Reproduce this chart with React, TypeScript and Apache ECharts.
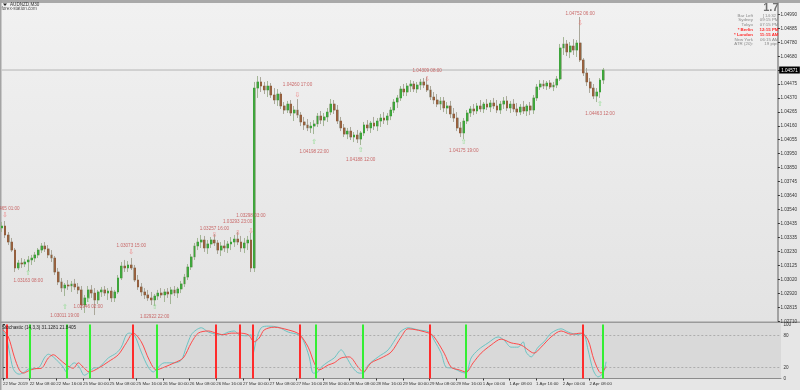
import React, { useEffect, useRef } from 'react';
import * as echarts from 'echarts';

// ---------- DATA ----------
const DAYS = ['22 Mar', '25 Mar', '26 Mar', '27 Mar', '28 Mar', '29 Mar', '1 Apr', '2 Apr'];
const FIRST_LABEL = '22 Mar 2019';
const BAR_COUNT = 182;
const SLOT_COUNT = 234;

const OPEN = [1.03407,1.03421,1.03355,1.03303,1.03244,1.03112,1.03149,1.03141,1.03156,1.03171,1.03185,1.03208,1.03244,1.03274,1.03252,1.03208,1.03185,1.03082,1.03009,1.02964,1.02986,1.02979,1.02994,1.02972,1.02950,1.02839,1.02891,1.02950,1.02927,1.02876,1.02935,1.02950,1.02927,1.02942,1.02891,1.02935,1.03038,1.03126,1.03112,1.03134,1.03112,1.03023,1.02972,1.02935,1.02913,1.02891,1.02876,1.02905,1.02927,1.02913,1.02935,1.02920,1.02950,1.02927,1.02957,1.02994,1.03045,1.03119,1.03193,1.03274,1.03303,1.03318,1.03259,1.03289,1.03318,1.03296,1.03244,1.03274,1.03259,1.03289,1.03303,1.03325,1.03303,1.03259,1.03296,1.03318,1.03112,1.04438,1.04483,1.04453,1.04424,1.04453,1.04387,1.04350,1.04394,1.04306,1.04276,1.04320,1.04254,1.04276,1.04239,1.04188,1.04166,1.04144,1.04158,1.04173,1.04232,1.04202,1.04225,1.04261,1.04320,1.04276,1.04195,1.04144,1.04099,1.04121,1.04077,1.04092,1.04062,1.04107,1.04166,1.04144,1.04180,1.04158,1.04195,1.04217,1.04202,1.04232,1.04276,1.04335,1.04365,1.04431,1.04409,1.04453,1.04468,1.04431,1.04460,1.04483,1.04460,1.04424,1.04372,1.04350,1.04320,1.04343,1.04291,1.04306,1.04247,1.04217,1.04144,1.04107,1.04195,1.04254,1.04284,1.04269,1.04306,1.04284,1.04320,1.04298,1.04328,1.04306,1.04276,1.04320,1.04343,1.04291,1.04320,1.04284,1.04261,1.04298,1.04269,1.04306,1.04276,1.04365,1.04446,1.04468,1.04453,1.04475,1.04446,1.04460,1.04505,1.04733,1.04763,1.04704,1.04748,1.04718,1.04770,1.04645,1.04549,1.04483,1.04438,1.04379,1.04409,1.04497];
const CLOSE = [1.03421,1.03355,1.03303,1.03244,1.03112,1.03149,1.03141,1.03156,1.03171,1.03185,1.03208,1.03244,1.03274,1.03252,1.03208,1.03185,1.03082,1.03009,1.02964,1.02986,1.02979,1.02994,1.02972,1.02950,1.02839,1.02891,1.02950,1.02927,1.02876,1.02935,1.02950,1.02927,1.02942,1.02891,1.02935,1.03038,1.03126,1.03112,1.03134,1.03112,1.03023,1.02972,1.02935,1.02913,1.02891,1.02876,1.02905,1.02927,1.02913,1.02935,1.02920,1.02950,1.02927,1.02957,1.02994,1.03045,1.03119,1.03193,1.03274,1.03303,1.03318,1.03259,1.03289,1.03318,1.03296,1.03244,1.03274,1.03259,1.03289,1.03303,1.03325,1.03303,1.03259,1.03296,1.03318,1.03112,1.04438,1.04483,1.04453,1.04424,1.04453,1.04387,1.04350,1.04394,1.04306,1.04276,1.04320,1.04254,1.04276,1.04239,1.04188,1.04166,1.04144,1.04158,1.04173,1.04232,1.04202,1.04225,1.04261,1.04320,1.04276,1.04195,1.04144,1.04099,1.04121,1.04077,1.04092,1.04062,1.04107,1.04166,1.04144,1.04180,1.04158,1.04195,1.04217,1.04202,1.04232,1.04276,1.04335,1.04365,1.04431,1.04409,1.04453,1.04468,1.04431,1.04460,1.04483,1.04460,1.04424,1.04372,1.04350,1.04320,1.04343,1.04291,1.04306,1.04247,1.04217,1.04144,1.04107,1.04195,1.04254,1.04284,1.04269,1.04306,1.04284,1.04320,1.04298,1.04328,1.04306,1.04276,1.04320,1.04343,1.04291,1.04320,1.04284,1.04261,1.04298,1.04269,1.04306,1.04276,1.04365,1.04446,1.04468,1.04453,1.04475,1.04446,1.04460,1.04505,1.04733,1.04763,1.04704,1.04748,1.04718,1.04770,1.04645,1.04549,1.04483,1.04438,1.04379,1.04409,1.04497,1.04571];
const HIGH = [1.03451,1.03458,1.03377,1.03333,1.03259,1.03171,1.03185,1.03178,1.03200,1.03208,1.03230,1.03259,1.03296,1.03303,1.03281,1.03244,1.03200,1.03112,1.03038,1.03001,1.03023,1.03016,1.03031,1.03001,1.02979,1.02913,1.02979,1.02986,1.02964,1.02950,1.02972,1.02979,1.02964,1.02972,1.02950,1.03060,1.03156,1.03171,1.03163,1.03185,1.03134,1.03060,1.03001,1.02964,1.02950,1.02935,1.02920,1.02950,1.02964,1.02957,1.02964,1.02972,1.02979,1.02972,1.03016,1.03068,1.03141,1.03215,1.03296,1.03333,1.03355,1.03348,1.03318,1.03340,1.03362,1.03318,1.03303,1.03318,1.03311,1.03340,1.03355,1.03377,1.03348,1.03333,1.03348,1.03370,1.04483,1.04527,1.04519,1.04483,1.04490,1.04475,1.04438,1.04431,1.04409,1.04335,1.04343,1.04350,1.04306,1.04357,1.04261,1.04225,1.04210,1.04188,1.04202,1.04254,1.04269,1.04254,1.04291,1.04357,1.04350,1.04313,1.04225,1.04173,1.04144,1.04151,1.04114,1.04129,1.04121,1.04188,1.04202,1.04195,1.04225,1.04217,1.04247,1.04261,1.04254,1.04298,1.04357,1.04387,1.04453,1.04468,1.04475,1.04497,1.04490,1.04483,1.04505,1.04512,1.04519,1.04453,1.04409,1.04394,1.04372,1.04372,1.04335,1.04343,1.04291,1.04261,1.04188,1.04217,1.04276,1.04306,1.04320,1.04328,1.04350,1.04335,1.04357,1.04350,1.04365,1.04350,1.04343,1.04372,1.04379,1.04343,1.04357,1.04328,1.04320,1.04343,1.04320,1.04335,1.04387,1.04468,1.04497,1.04497,1.04490,1.04497,1.04483,1.04527,1.04763,1.04814,1.04792,1.04777,1.04799,1.04792,1.04962,1.04659,1.04586,1.04512,1.04468,1.04438,1.04512,1.04586];
const LOW = [1.03377,1.03333,1.03281,1.03230,1.03082,1.03097,1.03112,1.03119,1.03090,1.03134,1.03156,1.03185,1.03222,1.03230,1.03185,1.03156,1.03060,1.02986,1.02935,1.02905,1.02950,1.02935,1.02950,1.02920,1.02802,1.02780,1.02861,1.02891,1.02765,1.02846,1.02898,1.02905,1.02876,1.02861,1.02861,1.02920,1.03023,1.03082,1.03082,1.03097,1.03009,1.02950,1.02905,1.02883,1.02869,1.02839,1.02832,1.02876,1.02891,1.02861,1.02891,1.02846,1.02905,1.02891,1.02927,1.02972,1.03023,1.03097,1.03171,1.03244,1.03259,1.03230,1.03215,1.03259,1.03274,1.03215,1.03200,1.03230,1.03222,1.03244,1.03267,1.03281,1.03230,1.03222,1.03244,1.03082,1.03082,1.04365,1.04409,1.04394,1.04372,1.04365,1.04320,1.04306,1.04284,1.04247,1.04254,1.04232,1.04195,1.04217,1.04158,1.04129,1.04121,1.04107,1.04099,1.04151,1.04173,1.04158,1.04188,1.04239,1.04247,1.04173,1.04121,1.04077,1.04062,1.04055,1.04040,1.04033,1.04018,1.04085,1.04121,1.04107,1.04129,1.04121,1.04151,1.04173,1.04166,1.04202,1.04254,1.04291,1.04343,1.04379,1.04379,1.04409,1.04409,1.04402,1.04424,1.04438,1.04409,1.04350,1.04320,1.04298,1.04276,1.04261,1.04247,1.04217,1.04188,1.04121,1.04077,1.04062,1.04173,1.04225,1.04239,1.04247,1.04261,1.04254,1.04276,1.04261,1.04284,1.04254,1.04247,1.04284,1.04269,1.04254,1.04261,1.04232,1.04239,1.04247,1.04232,1.04239,1.04247,1.04343,1.04424,1.04431,1.04424,1.04431,1.04416,1.04438,1.04490,1.04682,1.04674,1.04659,1.04682,1.04667,1.04630,1.04527,1.04453,1.04402,1.04357,1.04335,1.04365,1.04468];

const PRICE_MIN = 1.02721;
const PRICE_MAX = 1.05065;
const PRICE_STEP = 0.001028;
const PRICE_TICK_LABELS = ['1.02710','1.02815','1.02920','1.03020','1.03125','1.03230','1.03335','1.03435','1.03540','1.03640','1.03745','1.03850','1.03950','1.04055','1.04160','1.04265','1.04370','1.04475','1.04575','1.04680','1.04780','1.04885','1.04990'];
const CURRENT_PRICE = 1.04571;

// fractal marks: [bar index, price of arrow, label, label offset (px)]
const SELL_FRACTALS: [number, number, string, number][] = [
  [1, 1.03502, '1.03465 01:00', 7],
  [39, 1.03230, '1.03073 15:00', 6],
  [64, 1.03355, '1.03257 16:00', 6],
  [71, 1.03370, '1.03293 23:00', 11],
  [75, 1.03384, '1.03298 03:00', 16],
  [89, 1.04387, '1.04260 17:00', 10],
  [128, 1.04505, '1.04309 08:00', 8],
  [174, 1.04917, '1.04752 06:00', 10],
];
const BUY_FRACTALS: [number, number, string, number][] = [
  [8, 1.03075, '1.03163 08:00', 8],
  [19, 1.02824, '1.03011 19:00', 8],
  [26, 1.02876, '1.02946 02:00', 7],
  [46, 1.02824, '1.02922 22:00', 9],
  [94, 1.04040, '1.04198 22:00', 9],
  [108, 1.03981, '1.04188 12:00', 9],
  [139, 1.04040, '1.04175 19:00', 8],
  [180, 1.04320, '1.04463 12:00', 9],
];

// stochastic (bar index, value)
const STOCH_MAIN: [number, number][] = [[0,87],[1,77],[2,47],[3,19],[4,10],[4.9,8],[6.4,12],[7.9,18],[9.4,18],[10.9,21],[12.4,38],[13.6,45],[15.1,40],[16.6,31],[18.1,21],[19,12],[19.9,21],[21.4,29],[22.9,21],[24.4,6],[25.6,10],[27.1,19],[28.9,21],[31.6,38],[34,47],[35.5,58],[37,81],[37.9,84],[39.4,81],[41.5,49],[43.6,21],[45.1,12],[46.6,21],[48.4,29],[51.4,29],[53.5,34],[55,58],[56.5,81],[58,90],[59.5,94],[61.6,86],[64,82],[65.5,81],[67.6,86],[69.4,88],[70.9,81],[73,79],[74.5,81],[75.1,47],[76,71],[77.5,94],[79.6,97],[82.6,95],[85.6,86],[88.6,81],[90.1,71],[91.9,40],[93.1,10],[94,10],[95.5,21],[97.6,31],[99.4,38],[101.5,53],[103,40],[105.1,19],[106.9,10],[108.1,10],[109.6,25],[112.6,40],[115.6,53],[118.6,81],[119.5,88],[121.6,94],[124.6,90],[127.9,86],[129.4,71],[131.5,47],[133,21],[135.1,19],[137.5,12],[139,10],[140.5,38],[142.6,53],[145.6,66],[148.6,77],[150.4,71],[152.5,58],[154.6,58],[156.1,68],[157,49],[158.5,40],[160.6,58],[162.4,68],[164.5,84],[167.5,92],[169.6,86],[172.6,81],[174.1,84],[175.6,53],[177.1,16],[178.6,3],[180.1,10],[181,31]];
const STOCH_SIGNAL: [number, number][] = [[0,90],[1.6,77],[3.4,40],[4.9,16],[6.1,10],[7.6,14],[9.4,18],[11.5,19],[13.6,38],[15.1,44],[16.9,36],[19,25],[21.1,19],[22.6,29],[24.1,21],[25.9,12],[28.6,19],[31.6,31],[34.6,44],[37,66],[39.1,84],[41.5,68],[43.9,34],[46,16],[48.4,21],[51.4,29],[54.1,38],[56.5,66],[58.6,84],[61.6,88],[64,84],[66.1,81],[68.5,84],[70.9,84],[73.6,81],[75.4,68],[76.9,75],[78.4,90],[81.4,95],[85.6,90],[88.9,82],[91.6,58],[93.4,29],[94.9,16],[97.6,25],[99.4,29],[101.5,38],[103.9,40],[106.6,21],[108.1,12],[110.5,29],[113.5,38],[116.5,49],[119.5,77],[121.6,92],[127.9,84],[129.4,77],[132.4,47],[134.5,21],[136.9,16],[139,12],[141.1,29],[143.5,47],[146.5,62],[149.5,73],[152.5,66],[155.5,62],[158.5,49],[159.4,47],[161.5,58],[164.5,77],[167.5,88],[170.5,82],[173.5,84],[175.6,71],[177.4,34],[179.5,10],[181,22]];
const STOCH_LEVELS = [20, 80];
const STOCH_AXIS_LABELS = [0, 20, 80, 100];
const SELL_SIGNAL_BARS = [1, 39, 64, 71, 75, 89, 128, 174];
const BUY_SIGNAL_BARS = [8, 19, 26, 46, 94, 108, 139, 180];
const STOCH_TITLE = 'Stochastic (14,3,3) 31.1281 21.8405';

const INFO_ROWS: [string, string, boolean][] = [
  ['Bar Left', '[ 14:32 ]', false],
  ['Sydney', '09:15 PM', false],
  ['Tokyo', '07:15 PM', false],
  ['* Berlin', '12:15 PM', true],
  ['* London', '11:15 AM', true],
  ['New York', '06:15 AM', false],
  ['ATR (20):', '19 pips', false],
];

// ---------- BUILD ----------
const CATEGORIES: string[] = [];
DAYS.forEach((d, di) => {
  for (let h = 0; h < 24; h++) {
    if (CATEGORIES.length >= BAR_COUNT) return;
    CATEGORIES.push(di === 0 && h === 0 ? FIRST_LABEL : `${d} ${String(h).padStart(2, '0')}:00`);
  }
});
while (CATEGORIES.length < SLOT_COUNT) CATEGORIES.push('');

const FONT = 'Liberation Sans, Arial, sans-serif';

export default function App() {
  const ref = useRef<HTMLDivElement>(null);
  useEffect(() => {
    if (!ref.current) return;
    const chart = echarts.init(ref.current, null, { renderer: 'svg' });
    const full = OPEN.map((o, i) => [o, CLOSE[i], LOW[i], HIGH[i]]);
    const bodies = OPEN.map((o, i) => [o, CLOSE[i], Math.min(o, CLOSE[i]), Math.max(o, CLOSE[i])]);
    const labelInterval = (idx: number) => idx % 8 === 0 && idx < BAR_COUNT;
    const hidden = { symbolSize: 1, itemStyle: { color: 'rgba(0,0,0,0)' }, silent: true, xAxisIndex: 0, yAxisIndex: 0 };

    const info: any[] = [];
    INFO_ROWS.forEach((r, k) => {
      const y = 15 + k * 4.8;
      const fill = r[2] ? '#ff2a2a' : '#8a8a8a';
      const font = `${r[2] ? 'bold ' : ''}4.4px ${FONT}`;
      info.push({ type: 'text', z: 100, style: { text: r[0], x: 753, y, textAlign: 'right', textVerticalAlign: 'middle', fill, font } });
      info.push({ type: 'text', z: 100, style: { text: r[1], x: 778.5, y, textAlign: 'right', textVerticalAlign: 'middle', fill, font } });
    });

    chart.setOption({
      animation: false,
      textStyle: { fontFamily: FONT },
      graphic: [
        { type: 'rect', z: -100, silent: true, shape: { x: 0, y: 0, width: 800, height: 390 }, style: { fill: '#e6e6e6' } },
        { type: 'rect', z: -99, silent: true, shape: { x: 0, y: 3, width: 800, height: 319 }, style: { fill: { type: 'linear', x: 0, y: 0, x2: 0, y2: 1, colorStops: [{ offset: 0, color: '#f1f1f1' }, { offset: 1, color: '#e3e3e3' }] } } },
        { type: 'rect', z: -99, silent: true, shape: { x: 0, y: 323, width: 781, height: 56 }, style: { fill: '#d9d9d9' } },
        { type: 'rect', z: -98, silent: true, shape: { x: 0, y: 0, width: 800, height: 3 }, style: { fill: '#a9a9a9' } },
        { type: 'rect', z: -98, silent: true, shape: { x: 0, y: 0, width: 1.5, height: 390 }, style: { fill: '#a4a4a4' } },
        { type: 'rect', z: -98, silent: true, shape: { x: 0, y: 321.5, width: 800, height: 1.5 }, style: { fill: '#9a9a9a' } },
        { type: 'polygon', z: 100, shape: { points: [[3, 3.5], [7, 3.5], [5, 6]] }, style: { fill: '#222' } },
        { type: 'text', z: 100, style: { text: 'AUDNZD,M30', x: 10, y: 4.8, textVerticalAlign: 'middle', fill: '#333', font: `4.6px ${FONT}` } },
        { type: 'text', z: 100, style: { text: 'forex-station.com', x: 1.5, y: 8.5, textVerticalAlign: 'middle', fill: '#555', font: `4.6px ${FONT}` } },
        { type: 'text', z: 100, style: { text: '1.7', x: 778.5, y: 7, textAlign: 'right', textVerticalAlign: 'middle', fill: '#6f6f6f', font: `bold 11px ${FONT}` } },
        ...info,
        { type: 'text', z: 100, style: { text: STOCH_TITLE, x: 2, y: 327.5, textVerticalAlign: 'middle', fill: '#222', font: `4.6px ${FONT}` } },
      ],
      grid: [
        { left: 0, top: 3, width: 781, height: 318 },
        { left: 0, top: 324.5, width: 781, height: 54 },
      ],
      xAxis: [
        { type: 'category', gridIndex: 0, data: CATEGORIES, boundaryGap: true, show: false },
        {
          type: 'category', gridIndex: 1, data: CATEGORIES, boundaryGap: true,
          axisLine: { show: true, lineStyle: { color: '#8c8c8c', width: 1 } },
          axisTick: { show: true, interval: labelInterval, alignWithLabel: true, length: 2, lineStyle: { color: '#333' } },
          axisLabel: { interval: labelInterval, align: 'left', margin: 3, fontSize: 4.4, color: '#333', fontFamily: FONT },
          splitLine: { show: false },
        },
        { type: 'value', gridIndex: 1, min: -0.5, max: SLOT_COUNT - 0.5, show: false },
      ],
      yAxis: [
        {
          type: 'value', gridIndex: 0, position: 'right', min: PRICE_MIN, max: PRICE_MAX, interval: PRICE_STEP,
          axisLine: { show: true, lineStyle: { color: '#8c8c8c', width: 1.5 } },
          axisTick: { show: true, length: 2, lineStyle: { color: '#333' } },
          axisLabel: {
            show: true, showMaxLabel: false, margin: 2.5, fontSize: 4.6, color: '#333', fontFamily: FONT,
            formatter: (v: number) => PRICE_TICK_LABELS[Math.round((v - PRICE_MIN) / PRICE_STEP)] ?? '',
          },
          splitLine: { show: false },
        },
        {
          type: 'value', gridIndex: 1, position: 'right', min: 0, max: 100,
          axisLine: { show: true, lineStyle: { color: '#8c8c8c', width: 1.5 } },
          axisTick: { show: true, length: 2, customValues: STOCH_AXIS_LABELS, lineStyle: { color: '#333' } },
          axisLabel: { show: true, customValues: STOCH_AXIS_LABELS, margin: 2.5, fontSize: 4.6, color: '#333', fontFamily: FONT },
          splitLine: { show: false },
        },
      ],
      series: [
        {
          type: 'line', xAxisIndex: 0, yAxisIndex: 0, silent: true, showSymbol: false, z: 1,
          data: [[0, CURRENT_PRICE], [SLOT_COUNT - 1, CURRENT_PRICE]],
          lineStyle: { color: '#b4b4b4', width: 1 },
          endLabel: { show: true, distance: 3, formatter: CURRENT_PRICE.toFixed(5), backgroundColor: '#000', color: '#fff', fontSize: 4.6, padding: [1, 2], fontFamily: FONT },
        },
        {
          type: 'candlestick', xAxisIndex: 0, yAxisIndex: 0, data: full, barWidth: 2.4, silent: true,
          itemStyle: { color: '#b2c0a8', color0: '#b9b3a6', borderColor: '#a3b596', borderColor0: '#aaa79a', borderWidth: 1 },
        },
        {
          type: 'candlestick', xAxisIndex: 0, yAxisIndex: 0, data: bodies, barWidth: 1.4, silent: true,
          itemStyle: { color: '#24a024', color0: '#8e4e26', borderColor: '#24a024', borderColor0: '#8e4e26', borderWidth: 0.6 },
        },
        {
          type: 'scatter', ...hidden,
          data: SELL_FRACTALS.map((f) => [f[0], f[1]]),
          label: { show: true, position: 'inside', formatter: '⇩', color: '#f07070', fontSize: 7, fontFamily: 'DejaVu Sans' },
        },
        {
          type: 'scatter', ...hidden,
          data: SELL_FRACTALS.map((f) => ({ value: [f[0], f[1]], name: f[2], label: { offset: [0, -f[3]] } })),
          label: { show: true, position: 'inside', formatter: (p: any) => p.name, color: '#c04848', fontSize: 4.6, fontFamily: FONT },
        },
        {
          type: 'scatter', ...hidden,
          data: BUY_FRACTALS.map((f) => [f[0], f[1]]),
          label: { show: true, position: 'inside', formatter: '⇧', color: '#7ada7a', fontSize: 7, fontFamily: 'DejaVu Sans' },
        },
        {
          type: 'scatter', ...hidden,
          data: BUY_FRACTALS.map((f) => ({ value: [f[0], f[1]], name: f[2], label: { offset: [0, f[3]] } })),
          label: { show: true, position: 'inside', formatter: (p: any) => p.name, color: '#c04848', fontSize: 4.6, fontFamily: FONT },
        },
        {
          type: 'line', xAxisIndex: 2, yAxisIndex: 1, data: STOCH_MAIN, showSymbol: false, smooth: 0.3, silent: true,
          lineStyle: { color: '#6cc4c4', width: 1 },
          markLine: {
            silent: true, symbol: ['none', 'none'], label: { show: false },
            lineStyle: { color: '#a2a2a2', width: 0.8, type: [2, 2] },
            data: STOCH_LEVELS.map((v) => ({ yAxis: v })),
          },
        },
        {
          type: 'line', xAxisIndex: 2, yAxisIndex: 1, data: STOCH_SIGNAL, showSymbol: false, smooth: 0.3, silent: true,
          lineStyle: { color: '#ff4a4a', width: 1 },
          markLine: {
            silent: true, symbol: ['none', 'none'], label: { show: false },
            data: [
              ...SELL_SIGNAL_BARS.map((b) => ({ xAxis: b, lineStyle: { color: '#ff2b2b', width: 2, type: 'solid' } })),
              ...BUY_SIGNAL_BARS.map((b) => ({ xAxis: b, lineStyle: { color: '#33ee33', width: 2, type: 'solid' } })),
            ],
          },
        },
      ],
    });
    return () => chart.dispose();
  }, []);
  return <div ref={ref} style={{ position: 'fixed', left: 0, top: 0, width: 800, height: 390 }} />;
}
